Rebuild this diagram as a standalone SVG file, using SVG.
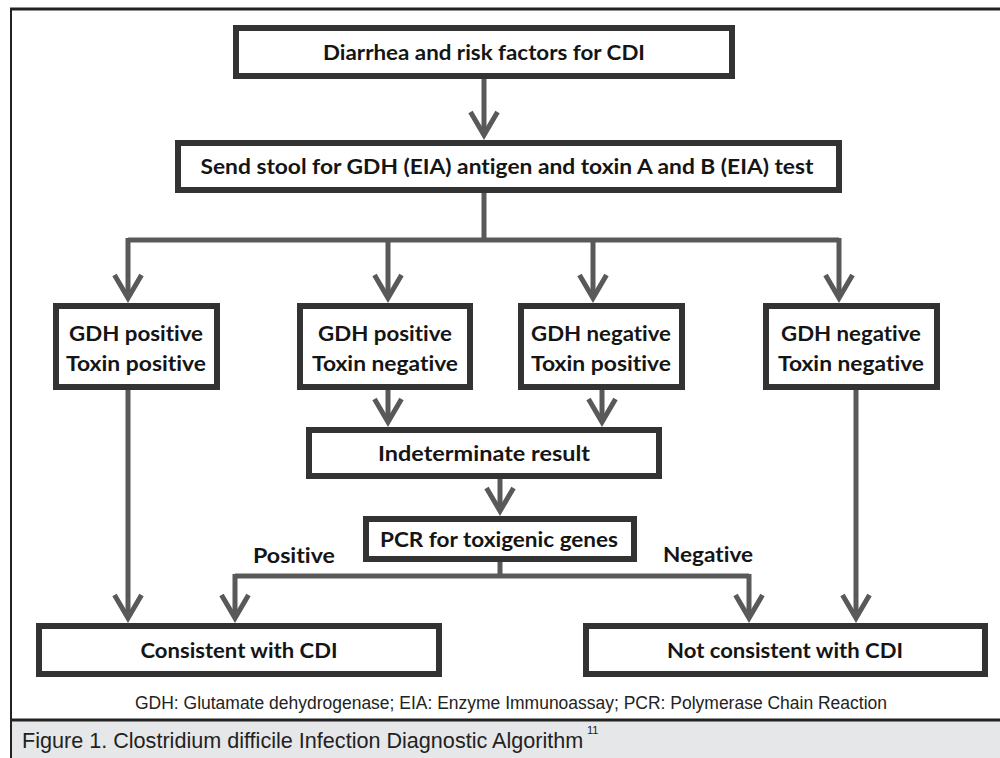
<svg xmlns="http://www.w3.org/2000/svg" width="1000" height="758" viewBox="0 0 1000 758">
<style>
.box{fill:#fff;stroke:#333;stroke-width:6}
.t{font-family:Lato,"Open Sans","DejaVu Sans",sans-serif;font-weight:bold;font-size:21px;fill:#151515;text-anchor:middle;font-variant-ligatures:none;font-feature-settings:"liga" 0}
.c{fill:none;stroke:#595959;stroke-width:5;stroke-linejoin:miter}
.a{marker-end:url(#chev)}
.fn{font-family:"Liberation Sans",Arial,sans-serif;fill:#222}
</style>
<defs>
<marker id="chev" markerUnits="userSpaceOnUse" orient="auto" refX="0" refY="0" markerWidth="40" markerHeight="40" viewBox="-30 -20 40 40" overflow="visible">
<path d="M-23,-13.5 L0,0 L-23,13.5" fill="none" stroke="#595959" stroke-width="5" stroke-linejoin="miter"/>
</marker>
</defs>
<rect x="0" y="0" width="1000" height="758" fill="#fff"/>
<rect x="11" y="720" width="989" height="38" fill="#e6e7e8"/>
<line x1="10" y1="9" x2="1000" y2="9" stroke="#222" stroke-width="3"/>
<line x1="11" y1="8" x2="11" y2="758" stroke="#222" stroke-width="2"/>
<line x1="10" y1="720" x2="1000" y2="720" stroke="#222" stroke-width="3"/>

<g id="connectors">
<line class="c a" x1="484" y1="79" x2="484" y2="135"/>
<line class="c" x1="484" y1="193" x2="484" y2="240"/>
<line class="c" x1="128" y1="240" x2="839" y2="240"/>
<line class="c a" x1="128" y1="238" x2="128" y2="298"/>
<line class="c a" x1="388" y1="240" x2="388" y2="298"/>
<line class="c a" x1="593" y1="240" x2="593" y2="298"/>
<line class="c a" x1="839" y1="238" x2="839" y2="298"/>
<line class="c a" x1="388" y1="390" x2="388" y2="422"/>
<line class="c a" x1="602" y1="390" x2="602" y2="422"/>
<line class="c a" x1="500" y1="479" x2="500" y2="511"/>
<line class="c" x1="500" y1="562" x2="500" y2="576"/>
<line class="c" x1="235" y1="576" x2="749" y2="576"/>
<line class="c a" x1="235" y1="574" x2="235" y2="618"/>
<line class="c a" x1="749" y1="574" x2="749" y2="618"/>
<line class="c a" x1="128" y1="390" x2="128" y2="618"/>
<line class="c a" x1="856" y1="390" x2="856" y2="618"/>
<text class="t" x="294" y="563" textLength="82" lengthAdjust="spacingAndGlyphs">Positive</text>
<text class="t" x="708" y="562" textLength="90" lengthAdjust="spacingAndGlyphs">Negative</text>
</g>

<g id="n1"><rect class="box" x="236" y="28" width="496" height="48"/>
<text class="t" x="484" y="60" textLength="322" lengthAdjust="spacingAndGlyphs">Diarrhea and risk factors for CDI</text></g>
<g id="n2"><rect class="box" x="178" y="143" width="661" height="47"/>
<text class="t" x="507" y="174" textLength="613" lengthAdjust="spacingAndGlyphs">Send stool for GDH (EIA) antigen and toxin A and B (EIA) test</text></g>
<g id="nA"><rect class="box" x="56" y="306" width="161" height="81"/>
<text class="t" x="136" y="341" textLength="134" lengthAdjust="spacingAndGlyphs">GDH positive</text>
<text class="t" x="136" y="371" textLength="140" lengthAdjust="spacingAndGlyphs">Toxin positive</text></g>
<g id="nB"><rect class="box" x="300" y="306" width="170" height="81"/>
<text class="t" x="385" y="341" textLength="134" lengthAdjust="spacingAndGlyphs">GDH positive</text>
<text class="t" x="385" y="371" textLength="146" lengthAdjust="spacingAndGlyphs">Toxin negative</text></g>
<g id="nC"><rect class="box" x="521" y="306" width="161" height="81"/>
<text class="t" x="601" y="341" textLength="140" lengthAdjust="spacingAndGlyphs">GDH negative</text>
<text class="t" x="601" y="371" textLength="140" lengthAdjust="spacingAndGlyphs">Toxin positive</text></g>
<g id="nD"><rect class="box" x="766" y="306" width="171" height="81"/>
<text class="t" x="851" y="341" textLength="140" lengthAdjust="spacingAndGlyphs">GDH negative</text>
<text class="t" x="851" y="371" textLength="146" lengthAdjust="spacingAndGlyphs">Toxin negative</text></g>
<g id="nI"><rect class="box" x="309" y="430" width="350" height="46"/>
<text class="t" x="484" y="461" textLength="212" lengthAdjust="spacingAndGlyphs">Indeterminate result</text></g>
<g id="nP"><rect class="box" x="366" y="519" width="268" height="40"/>
<text class="t" x="499" y="547" textLength="238" lengthAdjust="spacingAndGlyphs">PCR for toxigenic genes</text></g>
<g id="nY"><rect class="box" x="39" y="626" width="400" height="48"/>
<text class="t" x="239" y="658" textLength="197" lengthAdjust="spacingAndGlyphs">Consistent with CDI</text></g>
<g id="nN"><rect class="box" x="586" y="626" width="399" height="48"/>
<text class="t" x="785" y="658" textLength="236" lengthAdjust="spacingAndGlyphs">Not consistent with CDI</text></g>

<text class="fn" x="511" y="709" font-size="17.5" text-anchor="middle" textLength="752" lengthAdjust="spacingAndGlyphs">GDH: Glutamate dehydrogenase; EIA: Enzyme Immunoassay; PCR: Polymerase Chain Reaction</text>
<text class="fn" x="22" y="748" font-size="21.6">Figure 1. Clostridium difficile Infection Diagnostic Algorithm</text>
<text class="fn" x="587" y="734" font-size="11">11</text>
</svg>
